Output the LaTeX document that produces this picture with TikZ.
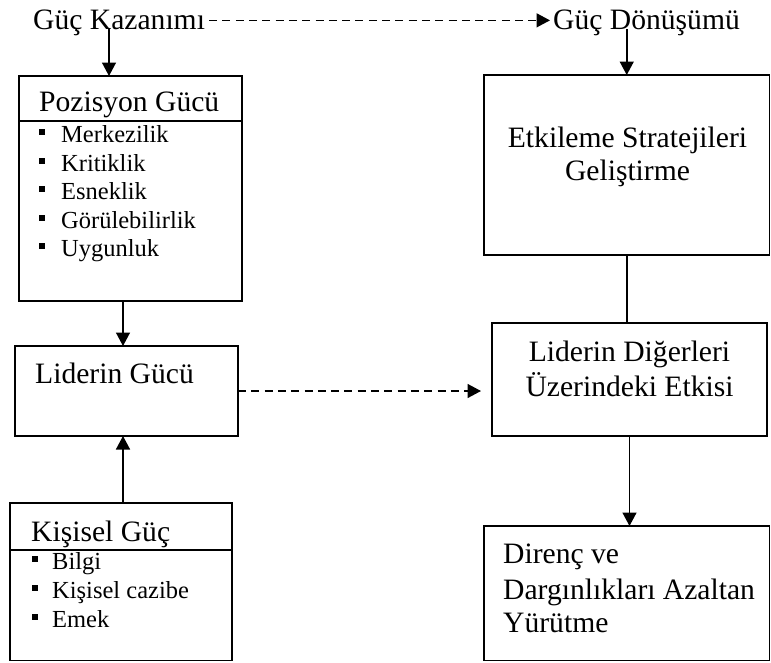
\documentclass[tikz,border=0pt]{standalone}
\usepackage{fontspec}
\setmainfont{Liberation Serif}
\usetikzlibrary{arrows.meta}
% square list bullet followed by a fixed gap
\newcommand\sqbullet[1]{\makebox[#1][l]{\rule[7pt]{6pt}{6pt}}}
\begin{document}
\begin{tikzpicture}[x=1pt,y=-1pt,
  box/.style={draw, line width=1.6pt, inner sep=0pt, outer sep=0pt, anchor=north west},
  headtxt/.style={inner sep=0pt, anchor=base west, font=\fontsize{29.6}{34}\selectfont},
  headc/.style={headtxt, anchor=base},
  itemtxt/.style={inner sep=0pt, anchor=base west, font=\fontsize{24.5}{28.5}\selectfont},
  arr/.style={line width=1.5pt, -{Triangle[length=13.5pt,width=14pt]}},
  darr/.style={arr, dash pattern=on 8pt off 5.3pt},
  plain/.style={line width=1.5pt},
  divider/.style={line width=1.6pt}]

\fill[white] (0,0) rectangle (771,662);
\useasboundingbox (0,0) rectangle (771,662);

% top labels
\node[headtxt] (gk) at (33,29) {Güç Kazanımı};
\node[headtxt] (gd) at (553,29) {Güç Dönüşümü};

% left column
\node[box, minimum width=223pt, minimum height=224.7pt] (pos) at (19,76) {};
\draw[divider] ([yshift=-45pt]pos.north west) -- ([yshift=-45pt]pos.north east);
\node[headtxt] (posT) at (39,111) {Pozisyon Gücü};
\node[itemtxt] (p1) at (39,142) {\sqbullet{22pt}Merkezilik};
\node[itemtxt] (p2) at (39,171) {\sqbullet{22pt}Kritiklik};
\node[itemtxt] (p3) at (39,199) {\sqbullet{22pt}Esneklik};
\node[itemtxt] (p4) at (39,228) {\sqbullet{22pt}Görülebilirlik};
\node[itemtxt] (p5) at (39,256) {\sqbullet{22pt}Uygunluk};

\node[box, minimum width=223pt, minimum height=90pt] (lid) at (15,346) {};
\node[headtxt] (lidT) at (35,383) {Liderin Gücü};

\node[box, minimum width=222pt, minimum height=157.5pt] (kis) at (10,503) {};
\draw[divider] ([yshift=-47pt]kis.north west) -- ([yshift=-47pt]kis.north east);
\node[headtxt] (kisT) at (31,541) {Kişisel Güç};
\node[itemtxt] (k1) at (32,569) {\sqbullet{20pt}Bilgi};
\node[itemtxt] (k2) at (32,598) {\sqbullet{20pt}Kişisel cazibe};
\node[itemtxt] (k3) at (32,627) {\sqbullet{20pt}Emek};

% right column
\node[box, minimum width=285.5pt, minimum height=180pt] (r1) at (484,75) {};
\node[headc] (r1a) at (627.5,147) {Etkileme Stratejileri};
\node[headc] (r1b) at (627.5,180) {Geliştirme};

\node[box, minimum width=275pt, minimum height=113pt] (r2) at (492,323) {};
\node[headc] (r2a) at (629.5,361) {Liderin Diğerleri};
\node[headc] (r2b) at (629.5,396) {Üzerindeki Etkisi};

\node[box, minimum width=285.5pt, minimum height=134.5pt] (r3) at (484,526) {};
\node[headtxt] (r3a) at (503,563) {Direnç ve};
\node[headtxt] (r3b) at (503,599) {Dargınlıkları Azaltan};
\node[headtxt] (r3c) at (503,632) {Yürütme};

% connectors
\coordinate (kx) at (109,0);
\coordinate (lx) at (123,0);
\draw[darr, shorten <=4pt, shorten >=3pt] ([yshift=2pt]gk.east) -- ([yshift=2pt]gd.west);
\draw[arr] (gk.base -| kx) -- (pos.north -| kx);
\draw[arr] (gd.base -| r1.north) -- (r1.north);
\draw[arr] (pos.south -| lx) -- (lid.north -| lx);
\draw[arr] (kis.north -| lx) -- (lid.south -| lx);
\draw[darr, shorten >=11pt] (lid.east) -- (lid.east -| r2.west);
\draw[plain] (r1.south) -- (r1.south |- r2.north);
\draw[arr] (r2.south) -- (r2.south |- r3.north);
\end{tikzpicture}
\end{document}
